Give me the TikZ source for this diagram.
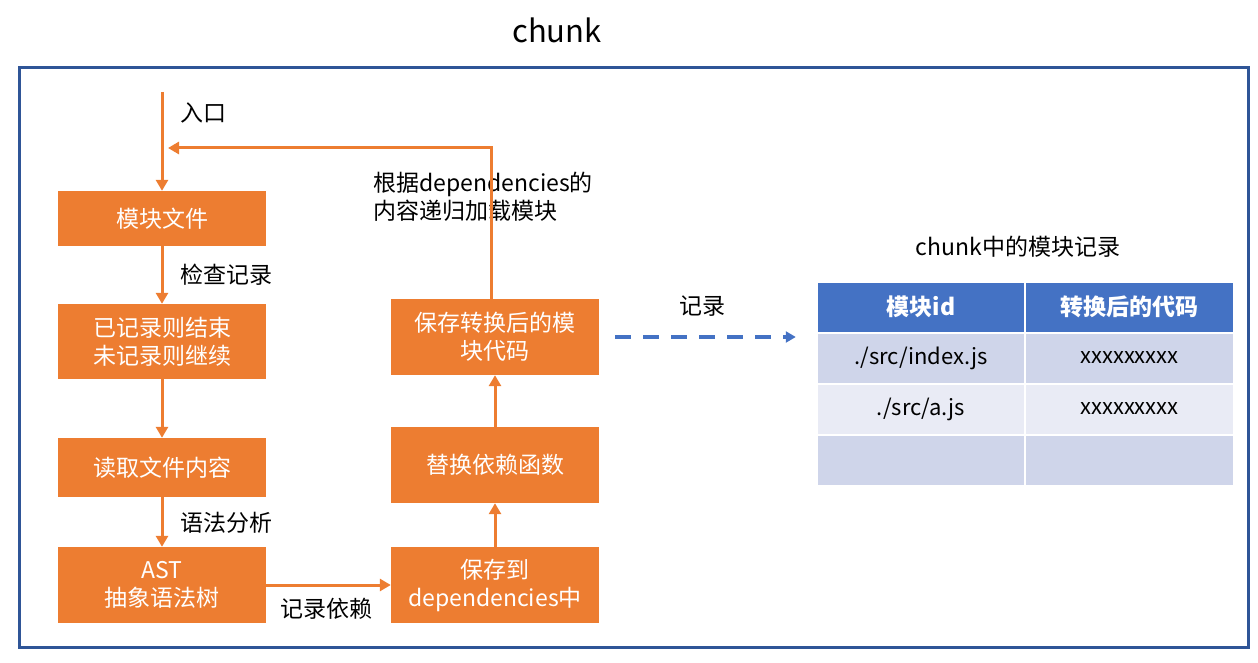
\documentclass[tikz,border=0pt]{standalone}
\usepackage{fontspec}
\setmainfont{Noto Sans CJK SC}
\usetikzlibrary{arrows.meta}

\definecolor{boxorange}{HTML}{ED7D31}
\definecolor{frameblue}{HTML}{2F5597}
\definecolor{headblue}{HTML}{4472C4}
\definecolor{rowdark}{HTML}{CFD5EA}
\definecolor{rowlight}{HTML}{E9EBF5}

\begin{document}
\begin{tikzpicture}[
        x=1pt, y=-1pt,
        font=\fontsize{23}{28}\selectfont,
        stepbox/.style={
            rectangle, fill=boxorange, text=white, inner sep=0pt,
            minimum width=208, minimum height=76, align=center
        },
        flow/.style={
            draw=boxorange, line width=3pt,
            -{Triangle[width=12pt,length=11pt]}
        },
        record/.style={
            draw=headblue, line width=4.5pt, dash pattern=on 16pt off 12pt,
            -{Triangle[width=11pt,length=10pt]}
        },
        cell/.style={
            rectangle, draw=white, line width=2pt, inner sep=0pt,
            minimum width=208.5, minimum height=51
        },
        label/.style={inner sep=0pt}
    ]
        \useasboundingbox (0,0) rectangle (1258,663);

        % Titel und Rahmen
        \node[label, font=\fontsize{31}{36}\selectfont] (title) at (557,30) {chunk};
        \draw[frameblue, line width=3pt] (19,68) rectangle (1248,647);

        % linke Spalte
        \node[stepbox, minimum height=55] (b1) at (162,218.5) {模块文件};
        \node[stepbox, minimum height=75] (b2) at (162,341.5) {已记录则结束\\未记录则继续};
        \node[stepbox, minimum height=59] (b3) at (162,467.5) {读取文件内容};
        \node[stepbox] (b4) at (162,585) {AST\\抽象语法树};

        % rechte Spalte
        \node[stepbox] (b5) at (495,585) {保存到\\dependencies中};
        \node[stepbox] (b6) at (495,465) {替换依赖函数};
        \node[stepbox] (b7) at (495,337) {保存转换后的模\\块代码};

        % Beschriftungen
        \node[label, anchor=west] (l1) at (180,113) {入口};
        \node[label, anchor=west] (l2) at (180,275) {检查记录};
        \node[label, anchor=west] (l3) at (180,523) {语法分析};
        \node[label] (l4) at (326,609) {记录依赖};
        \node[label, anchor=west, align=left] (l5) at (373,197) {根据dependencies的\\内容递归加载模块};
        \node[label] (l6) at (702,306) {记录};

        % Tabelle
        \node[label] (tabtitle) at (1018,247) {chunk中的模块记录};
        \node[cell, fill=headblue, text=white, font=\fontsize{23}{28}\selectfont\bfseries] (h1) at (921,307) {模块id};
        \node[cell, fill=headblue, text=white, font=\fontsize{23}{28}\selectfont\bfseries] (h2) at (1129.5,307) {转换后的代码};
        \node[cell, fill=rowdark, font=\fontsize{22}{26}\selectfont] (r1a) at (921,358) {./src/index.js};
        \node[cell, fill=rowdark, font=\fontsize{22}{26}\selectfont] (r1b) at (1129.5,358) {xxxxxxxxx};
        \node[cell, fill=rowlight, font=\fontsize{22}{26}\selectfont] (r2a) at (921,409) {./src/a.js};
        \node[cell, fill=rowlight, font=\fontsize{22}{26}\selectfont] (r2b) at (1129.5,409) {xxxxxxxxx};
        \node[cell, fill=rowdark] (r3a) at (921,460) {};
        \node[cell, fill=rowdark] (r3b) at (1129.5,460) {};

        % Verbindungen
        \coordinate (start) at (162,92);
        \coordinate (back) at (162,148);
        \draw[flow] (start) -- (b1);
        \draw[flow] (b1) -- (b2);
        \draw[flow] (b2) -- (b3);
        \draw[flow] (b3) -- (b4);
        \draw[flow] (b4) -- (b5);
        \draw[flow] (b5) -- (b6);
        \draw[flow] (b6) -- (b7);
        \draw[flow, shorten >=6pt] ([xshift=-4]b7.north) |- (back);
        \draw[record] ([xshift=16]b7.east) -- ([xshift=-20]b7.east -| r1a.west);

    \end{tikzpicture}
\end{document}
